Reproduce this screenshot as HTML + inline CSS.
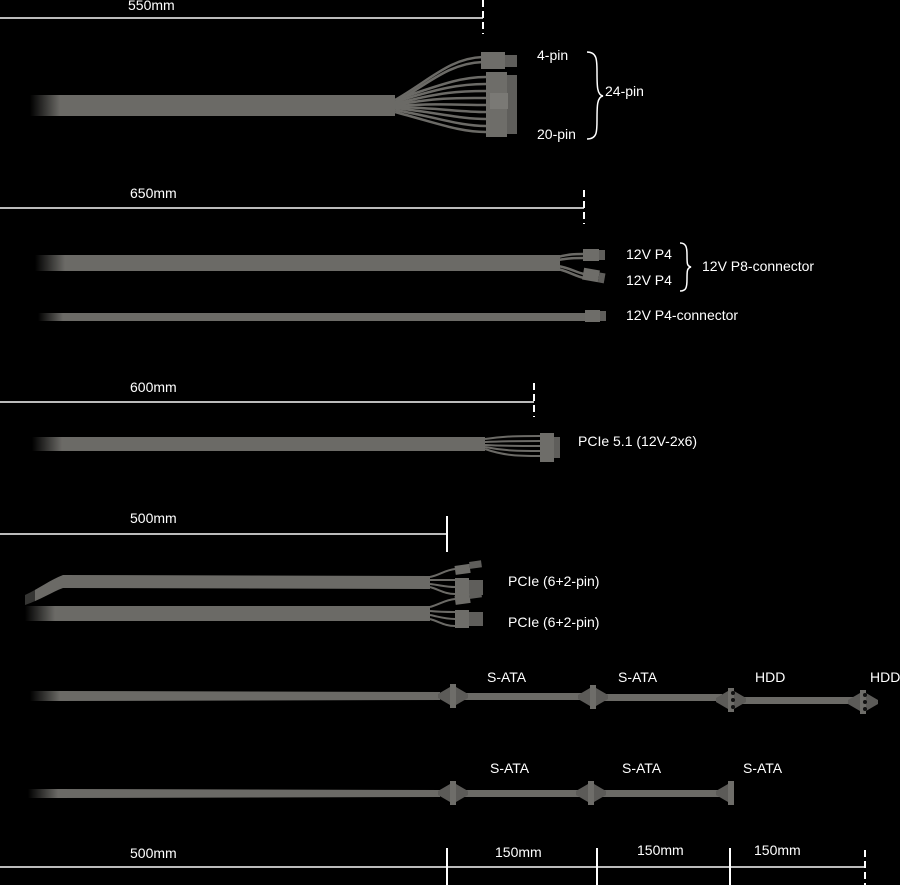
<!DOCTYPE html>
<html><head><meta charset="utf-8"><style>
html,body{margin:0;padding:0;background:#000;width:900px;height:885px;overflow:hidden}
svg{display:block}
text{font-family:"Liberation Sans",sans-serif;font-size:14px;fill:#fff}
</style></head><body>
<svg width="900" height="885" viewBox="0 0 900 885" xmlns="http://www.w3.org/2000/svg">
<defs>
<linearGradient id="fade" x1="0" x2="1" y1="0" y2="0">
<stop offset="0" stop-color="#000"/><stop offset="1" stop-color="#6b6a66"/>
</linearGradient>
<g id="sata">
<polygon points="-12,-2 0,-9 0,9 -12,2" fill="#5c5b58"/>
<rect x="0" y="-12" width="6" height="24" fill="#6e6d69"/>
<polygon points="6,-9 18,-2 18,2 6,9" fill="#5c5b58"/>
</g>
</defs>
<g stroke="#bbb" stroke-width="2" fill="none">
<line x1="0" y1="18" x2="483" y2="18"/>
<line x1="0" y1="208" x2="584" y2="208"/>
<line x1="0" y1="402" x2="534" y2="402"/>
<line x1="0" y1="534" x2="447" y2="534"/>
<line x1="0" y1="867" x2="865" y2="867"/>
</g>
<g stroke="#fff" stroke-width="2" fill="none">
<line x1="483" y1="0" x2="483" y2="34" stroke-dasharray="7,4"/>
<line x1="584" y1="190" x2="584" y2="224" stroke-dasharray="7,4"/>
<line x1="534" y1="383" x2="534" y2="417" stroke-dasharray="7,4"/>
<line x1="447" y1="516" x2="447" y2="552"/>
<line x1="447" y1="848" x2="447" y2="885"/>
<line x1="597" y1="848" x2="597" y2="885"/>
<line x1="730" y1="848" x2="730" y2="885"/>
<line x1="865" y1="850" x2="865" y2="885" stroke-dasharray="7,4"/>
</g>
<text x="128" y="10">550mm</text>
<text x="130" y="198">650mm</text>
<text x="130" y="392">600mm</text>
<text x="130" y="523">500mm</text>
<text x="130" y="858">500mm</text>
<text x="495" y="857">150mm</text>
<text x="637" y="855">150mm</text>
<text x="754" y="855">150mm</text>

<!-- 24-pin cable -->
<rect x="30" y="95" width="30" height="21" fill="url(#fade)"/>
<rect x="60" y="95" width="335" height="21" fill="#6b6a66"/>
<g stroke="#6b6a66" stroke-width="2.5" fill="none">
<path d="M395,100 C430,80 450,58 483,57"/><path d="M395,103 C430,82 450,63 483,62"/>
<path d="M395,100 C440,85 460,77 486,77"/><path d="M395,102 C440,88 460,84 486,84"/>
<path d="M395,104 C440,92 460,91 486,91"/><path d="M395,105 C440,97 460,98 486,98"/>
<path d="M395,106 C440,103 460,105 486,105"/><path d="M395,107 C440,108 460,112 486,112"/>
<path d="M395,108 C440,113 460,119 486,119"/><path d="M395,110 C440,118 460,126 486,126"/>
<path d="M395,112 C440,124 460,132 486,132"/>
</g>
<rect x="481" y="52" width="24" height="17" fill="#6e6d69"/><rect x="505" y="55" width="12" height="12" fill="#5f5e5b"/>
<rect x="486" y="72" width="21" height="65" fill="#6e6d69"/><rect x="507" y="75" width="10" height="59" fill="#5f5e5b"/>
<rect x="490" y="93" width="18" height="16" fill="#7a7975"/>
<text x="537" y="60">4-pin</text>
<text x="537" y="139">20-pin</text>
<path d="M587,52 C597,52 597,60 597,72 C597,86 597,95 603,96 C597,97 597,106 597,120 C597,132 597,139 587,139" stroke="#fff" stroke-width="1.5" fill="none"/>
<text x="605" y="96">24-pin</text>

<!-- P8 cable -->
<rect x="35" y="255" width="30" height="16" fill="url(#fade)"/>
<rect x="65" y="255" width="495" height="16" fill="#6b6a66"/>
<g stroke="#6b6a66" stroke-width="2.5" fill="none">
<path d="M558,257 C570,254 575,254 583,254"/><path d="M558,260 C570,258 575,258 583,258"/>
<path d="M558,266 C570,268 575,272 584,274"/><path d="M558,269 C570,272 575,276 584,278"/>
</g>
<rect x="583" y="249" width="16" height="12" fill="#6e6d69"/><rect x="599" y="250" width="6" height="10" fill="#5f5e5b"/>
<rect x="583" y="269" width="16" height="12" fill="#6e6d69" transform="rotate(10 591 275)"/><rect x="599" y="271" width="6" height="10" fill="#5f5e5b" transform="rotate(10 591 275)"/>
<text x="626" y="259">12V P4</text>
<text x="626" y="285">12V P4</text>
<path d="M680,243 C686,243 687,247 687,255 C687,264 687,266 691,267 C687,268 687,271 687,279 C687,288 686,291 680,291" stroke="#fff" stroke-width="1.5" fill="none"/>
<text x="702" y="271">12V P8-connector</text>

<!-- P4 cable -->
<rect x="38" y="313" width="25" height="8" fill="url(#fade)"/>
<rect x="63" y="313" width="522" height="8" fill="#6b6a66"/>
<rect x="585" y="310" width="15" height="12" fill="#6e6d69"/><rect x="600" y="311" width="6" height="10" fill="#5f5e5b"/>
<text x="626" y="320">12V P4-connector</text>

<!-- PCIe 5.1 -->
<rect x="32" y="437" width="30" height="14" fill="url(#fade)"/>
<rect x="62" y="437" width="423" height="14" fill="#6b6a66"/>
<g stroke="#6b6a66" stroke-width="2" fill="none">
<path d="M485,439 C505,436 520,436 540,436"/><path d="M485,442 C505,441 520,441 540,441"/>
<path d="M485,445 C505,446 520,446 540,446"/><path d="M485,447 C505,451 520,451 540,451"/>
<path d="M485,449 C505,456 520,456 540,456"/>
</g>
<rect x="540" y="433" width="14" height="29" fill="#6e6d69"/><rect x="554" y="437" width="6" height="21" fill="#5f5e5b"/>
<text x="578" y="446">PCIe 5.1 (12V-2x6)</text>

<!-- PCIe 6+2 cables -->
<path d="M25,595 C40,588 50,580 63,575 L430,576 L430,589 L63,588 C52,592 40,600 25,605 Z" fill="#6b6a66"/>
<rect x="20" y="590" width="15" height="20" fill="#000" opacity="0.5"/>
<g stroke="#6b6a66" stroke-width="2" fill="none">
<path d="M430,577 C440,575 445,570 455,569"/><path d="M430,580 C440,580 445,580 455,580"/>
<path d="M430,584 C440,585 445,587 455,587"/><path d="M430,587 C440,590 445,594 455,594"/>
</g>
<rect x="455" y="565" width="15" height="9" fill="#6e6d69" transform="rotate(-8 462 569)"/><rect x="470" y="563" width="12" height="7" fill="#5f5e5b" transform="rotate(-8 462 569)"/>
<rect x="455" y="578" width="14" height="19" fill="#6e6d69"/><rect x="469" y="580" width="14" height="15" fill="#5f5e5b"/>
<text x="508" y="586">PCIe (6+2-pin)</text>
<rect x="25" y="606" width="30" height="15" fill="url(#fade)"/>
<rect x="55" y="606" width="375" height="15" fill="#6b6a66"/>
<g stroke="#6b6a66" stroke-width="2" fill="none">
<path d="M430,607 C440,604 445,600 455,599"/><path d="M430,611 C440,612 445,612 455,612"/>
<path d="M430,615 C440,617 445,619 455,619"/><path d="M430,619 C440,622 445,626 455,626"/>
</g>
<rect x="455" y="595" width="15" height="9" fill="#6e6d69" transform="rotate(-8 462 599)"/><rect x="470" y="593" width="12" height="7" fill="#5f5e5b" transform="rotate(-8 462 599)"/>
<rect x="455" y="610" width="14" height="18" fill="#6e6d69"/><rect x="469" y="612" width="14" height="14" fill="#5f5e5b"/>
<text x="508" y="627">PCIe (6+2-pin)</text>

<!-- SATA 1 -->
<rect x="30" y="691" width="30" height="10" fill="url(#fade)"/>
<polygon points="60,691 440,692 440,700 60,701" fill="#6b6a66"/>
<rect x="455" y="693" width="130" height="7" fill="#6b6a66"/>
<rect x="597" y="694" width="125" height="7" fill="#6b6a66"/>
<rect x="738" y="697" width="118" height="7" fill="#6b6a66"/>
<use href="#sata" x="450" y="696"/>
<use href="#sata" x="590" y="697"/>
<use href="#sata" x="728" y="700"/>
<use href="#sata" x="860" y="702"/>
<g fill="#111"><circle cx="733" cy="693" r="2"/><circle cx="733" cy="700" r="2"/><circle cx="733" cy="707" r="2"/><circle cx="865" cy="695" r="2"/><circle cx="865" cy="702" r="2"/><circle cx="865" cy="709" r="2"/></g>
<text x="487" y="682">S-ATA</text>
<text x="618" y="682">S-ATA</text>
<text x="755" y="682">HDD</text>
<text x="870" y="682">HDD</text>

<!-- SATA 2 -->
<rect x="28" y="789" width="30" height="9" fill="url(#fade)"/>
<polygon points="58,789 440,790 440,797 58,798" fill="#6b6a66"/>
<rect x="455" y="790" width="130" height="7" fill="#6b6a66"/>
<rect x="595" y="790" width="125" height="7" fill="#6b6a66"/>
<use href="#sata" x="450" y="793"/>
<use href="#sata" x="588" y="793"/>
<g transform="translate(728,793)"><polygon points="-12,-2 0,-9 0,9 -12,2" fill="#5c5b58"/><rect x="0" y="-12" width="6" height="24" fill="#6e6d69"/></g>
<text x="490" y="773">S-ATA</text>
<text x="622" y="773">S-ATA</text>
<text x="743" y="773">S-ATA</text>
</svg>
</body></html>
